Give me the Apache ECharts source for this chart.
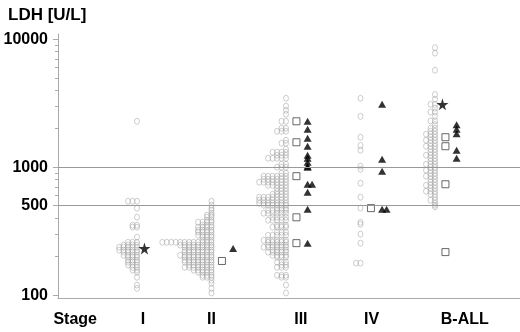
<!DOCTYPE html>
<html><head><meta charset="utf-8">
<script src="https://cdn.jsdelivr.net/npm/echarts@6/dist/echarts.min.js"></script>
<style>html,body{margin:0;padding:0;background:#fff}#c{width:520px;height:332px}</style>
</head><body><div id="c"></div>
<script>
// ---------------- data ----------------
const categories = ['I', 'II', 'III', 'IV', 'B-ALL'];
const axisTitle = 'LDH [U/L]';
const stageTitle = 'Stage';
const yTickValues = [100, 500, 1000, 10000];
const yMinorTicks = [200,300,400,600,700,800,900,2000,3000,4000,5000,6000,7000,8000,9000];
const refLines = [500, 1000];

const diamondI = [2286, 542,542,542, 478, 407, 352,352, 340,340, 284, 259,259,259,
  246,246,246,246, 237,237,237,237,237, 225,225,225,225,225, 217,217,217,217,
  205,205,205,205, 198,198,198, 188,188,188, 181,181,181, 172,172,172, 165,165,
  157,157, 151, 138, 120, 113];
const diamondII = [542, 505, 478, 461, 437, 422,422, 407,407, 385,385, 372,372,372,372,
  352,352,352, 340,340,340,340, 322,322,322,322, 311,311,311,311, 294,294,294,294,
  284,284,284, 269,269,269, 259,259,259,259,259,259,259,259,259,259,259,259,
  246,246,246,246,246,246,246,246, 237,237,237,237,237,237,237, 225,225,225,225,225,225,225,
  217,217,217,217,217,217,217, 205,205,205,205,205,205,205,205, 198,198,198,198,198,198,198,
  188,188,188,188,188,188,188, 181,181,181,181,181,181,181, 172,172,172,172,172,172,
  165,165,165,165,165,165,165, 157,157,157,157,157, 151,151,151,151, 143,143,143,
  138,138,138, 131, 124, 113, 104];
const diamondIII = [3460, 2997, 2789, 2595, 2286,2286, 2017,2017, 1911,1911,1911, 1625,
  1540,1540, 1382, 1310,1310,1310,1310, 1241,1241,1241, 1175,1175,1175,1175,1175,
  1055,1055, 1000,1000,1000, 898,898, 851,851,851,851,851,851, 806,806,806,806,806,806,
  764,764,764,764,764,764,764, 723,723,723,723,723, 686,686,686, 649,649,649,
  615,615,615,615, 583,583,583,583,583,583,583, 552,552,552,552,552,552,552,
  523,523,523,523,523,523,523, 505,505,505,505,505,505, 478,478,478,
  461,461,461,461,461, 437,437,437,437,437,437, 407,407,407,407, 385,385,385,385,385,
  352,352,352, 340,340,340,340, 311,311,311, 294,294,294,294,294,
  269,269,269,269,269,269, 259,259,259,259,259, 246,246,246,246,246,
  237,237,237,237,237,237, 225,225,225,225, 217,217,217,217,217, 205,205,205,205,
  198,198,198, 181,181,181, 172,172, 165,165,165, 143,143,143, 138,138, 120, 104];
const diamondIV = [3460, 2500, 1716, 1479, 1358, 1019, 964, 750, 583, 479, 371, 358, 300, 255, 178, 178];
const diamondBALL = [8600, 7800, 5730, 3700, 3400, 3100,3100, 2900, 2700,2700, 2500,
  2300,2300, 2150, 2017,2017, 1911,1911, 1810,1810,1810, 1716,1716, 1625,1625,1625,
  1540,1540, 1459,1459,1459, 1382,1382, 1310,1310, 1241,1241,1241, 1175,1175,
  1114,1114, 1055,1055,1055, 1000,1000, 947,947,947, 898,898, 851,851,851, 806,806,
  764,764, 723,723,723, 686,686, 649,649,649, 615,615, 583, 552,552, 523, 505, 490];

const squareI = [];
const squareII = [185];
const squareIII = [2286, 1567, 851, 406, 255];
const squareIV = [479];
const squareBALL = [1716, 1459, 736, 217];

const triangleI = [];
const triangleII = [232];
const triangleIII = [2286, 1982, 1686, 1460, 1241, 1175, 1094, 1019, 1000, 736, 736, 638, 470, 255];
const triangleIV = [3100, 1155, 931, 470, 470];
const triangleBALL = [2150, 1980, 1830, 1358, 1175];

const starI = [232];
const starII = [];
const starIII = [];
const starIV = [];
const starBALL = [3100];

// ---------------- layout ----------------
const X_MIN = -1.0604, X_MAX = 5.141;          // category units
const labelPos = [-0.83, 0.08, 1.0, 2.2, 3.15, 4.4];
const labelText = [stageTitle].concat(categories);
const DUP = 0.06;                               // spacing between equal values
const OFF = { diamond: 0, square: 0.14, triangle: 0.29, star: 0.1 };

function place(groups, base, dir) {
  const out = [];
  groups.forEach((vals, k) => {
    const cnt = {};
    vals.forEach(v => {
      const i = cnt[v] || 0; cnt[v] = i + 1;
      out.push([k + base + dir * i * DUP, v]);
    });
  });
  return out;
}
const diamonds = place([diamondI, diamondII, diamondIII, diamondIV, diamondBALL], OFF.diamond, -1);
const squares = place([squareI, squareII, squareIII, squareIV, squareBALL], OFF.square, 1);
const triangles = place([triangleI, triangleII, triangleIII, triangleIV, triangleBALL], OFF.triangle, 1);
const stars = place([starI, starII, starIII, starIV, starBALL], OFF.star, 1);

const FONT = 'Liberation Sans, Arial, sans-serif';
const starPath = 'path://M50,0 L61,35 L98,35 L68,57 L79,91 L50,70 L21,91 L32,57 L2,35 L39,35 Z';

const chart = echarts.init(document.getElementById('c'), null, { renderer: 'canvas' });
chart.setOption({
  animation: false,
  backgroundColor: '#fff',
  title: { text: axisTitle, left: 3, top: 2, textStyle: { fontFamily: FONT, fontWeight: 'bold', fontSize: 17, color: '#000' } },
  grid: { left: 58, right: 0, top: 34, bottom: 34 },
  xAxis: {
    type: 'value', min: X_MIN, max: X_MAX,
    axisLine: { show: true, onZero: false, lineStyle: { color: '#aaa', width: 1 } },
    axisTick: { show: false },
    splitLine: { show: false },
    axisLabel: {
      customValues: labelPos,
      margin: 14,
      fontFamily: FONT, fontWeight: 'bold', fontSize: 16, color: '#000',
      formatter: function (val) {
        let best = 0, d = Infinity;
        labelPos.forEach((p, i) => { if (Math.abs(p - val) < d) { d = Math.abs(p - val); best = i; } });
        return labelText[best];
      }
    }
  },
  yAxis: [{
    type: 'log', logBase: 10, min: 95, max: 11000,
    axisLine: { show: true, onZero: false, lineStyle: { color: '#aaa', width: 1 } },
    axisTick: { show: true, customValues: yTickValues, length: 5, lineStyle: { color: '#aaa' } },
    splitLine: { show: false },
    axisLabel: {
      customValues: yTickValues, margin: 10, fontFamily: FONT, fontWeight: 'bold', fontSize: 16, color: '#000',
      formatter: v => String(Math.round(v))
    }
  }, {
    type: 'log', logBase: 10, min: 95, max: 11000, position: 'left',
    axisLine: { show: false, onZero: false },
    axisTick: { show: true, customValues: yMinorTicks, length: 3, lineStyle: { color: '#aaa' } },
    splitLine: { show: false },
    axisLabel: { show: false }
  }],
  series: [{
    type: 'scatter', name: 'diamond', data: diamonds,
    symbol: 'circle', symbolSize: [5, 6],
    itemStyle: { color: 'rgba(255,255,255,0)', borderColor: '#a6a6a6', borderWidth: 0.7 },
    markLine: {
      silent: true, symbol: 'none', label: { show: false },
      lineStyle: { color: '#999', width: 1, type: 'solid' },
      data: refLines.map(v => ({ yAxis: v }))
    }
  }, {
    type: 'scatter', name: 'square', data: squares,
    symbol: 'rect', symbolSize: 7,
    itemStyle: { color: '#fff', borderColor: '#444', borderWidth: 1 }
  }, {
    type: 'scatter', name: 'triangle', data: triangles,
    symbol: 'triangle', symbolSize: [8, 7],
    itemStyle: { color: '#000' }
  }, {
    type: 'scatter', name: 'star', data: stars,
    symbol: starPath, symbolSize: 12,
    itemStyle: { color: '#000' }
  }]
});
</script>
</body></html>
